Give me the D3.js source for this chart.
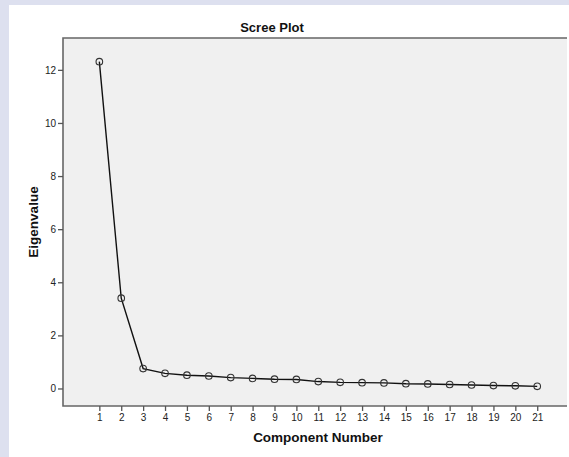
<!DOCTYPE html>
<html>
<head>
<meta charset="utf-8">
<script src="https://cdn.jsdelivr.net/npm/d3@7"></script>
<style>
  html, body { margin: 0; padding: 0; background: #dde0ef; }
</style>
</head>
<body>
<script>
// Scree plot data
const components = d3.range(1, 22);
const eigenvalues = [12.31, 3.40, 0.75, 0.57, 0.50, 0.47, 0.41, 0.38, 0.35, 0.34,
  0.26, 0.23, 0.22, 0.21, 0.18, 0.17, 0.15, 0.13, 0.11, 0.10, 0.08];
const yTicks = [0, 2, 4, 6, 8, 10, 12];

const width = 569, height = 457;
const plot = {left: 63, top: 38, right: 567, bottom: 406};
const font = "'Liberation Sans', Arial, sans-serif";

const svg = d3.select("body").append("svg")
  .attr("width", width).attr("height", height)
  .style("display", "block")
  .style("font-family", font);

svg.append("rect").attr("x", 0).attr("y", 0).attr("width", width).attr("height", height).attr("fill", "#dde0ef");
svg.append("rect").attr("x", 9).attr("y", 5).attr("width", width - 9).attr("height", height - 5).attr("fill", "#ffffff");

const x = d3.scaleLinear().domain([-0.66, 22.36]).range([plot.left, plot.right]);
const y = d3.scaleLinear().domain([-0.66, 13.2]).range([plot.bottom, plot.top]);

svg.append("rect").attr("x", plot.left).attr("y", plot.top)
  .attr("width", plot.right - plot.left).attr("height", plot.bottom - plot.top)
  .attr("fill", "#f0f0f0");

// frame: left, bottom, top
svg.append("path")
  .attr("d", `M${plot.right},${plot.top}H${plot.left}V${plot.bottom}H${plot.right}`)
  .attr("fill", "none").attr("stroke", "#666").attr("stroke-width", 1.6);

const xAxis = d3.axisBottom(x).tickValues(components).tickSize(5).tickPadding(3);
svg.append("g").attr("transform", `translate(0,${plot.bottom})`).call(xAxis)
  .attr("font-size", 10).attr("font-family", font)
  .call(g => g.select(".domain").remove())
  .call(g => g.selectAll(".tick line").attr("stroke", "#555").attr("stroke-width", 1.3))
  .call(g => g.selectAll(".tick text").attr("fill", "#222"));

const yAxis = d3.axisLeft(y).tickValues(yTicks).tickSize(5).tickPadding(2);
svg.append("g").attr("transform", `translate(${plot.left},0)`).call(yAxis)
  .attr("font-size", 10).attr("font-family", font)
  .call(g => g.select(".domain").remove())
  .call(g => g.selectAll(".tick line").attr("stroke", "#555").attr("stroke-width", 1.3))
  .call(g => g.selectAll(".tick text").attr("fill", "#222"));

const pts = components.map((c, i) => ({c, v: eigenvalues[i]}));
const line = d3.line().x(d => x(d.c)).y(d => y(d.v));
svg.append("path").datum(pts).attr("d", line)
  .attr("fill", "none").attr("stroke", "#111").attr("stroke-width", 1.4);

svg.append("g").selectAll("circle").data(pts).join("circle")
  .attr("cx", d => x(d.c)).attr("cy", d => y(d.v)).attr("r", 3.3)
  .attr("fill", "none").attr("stroke", "#333").attr("stroke-width", 1.1);

svg.append("text").attr("x", 272).attr("y", 32).attr("text-anchor", "middle")
  .attr("font-size", "13px").attr("font-weight", "bold").attr("fill", "#111").text("Scree Plot");

svg.append("text").attr("x", 318).attr("y", 442).attr("text-anchor", "middle")
  .attr("font-size", "13.5px").attr("font-weight", "bold").attr("fill", "#111").text("Component Number");

svg.append("text").attr("transform", `translate(38,222) rotate(-90)`)
  .attr("text-anchor", "middle")
  .attr("font-size", "13.5px").attr("font-weight", "bold").attr("fill", "#111").text("Eigenvalue");
</script>
</body>
</html>
